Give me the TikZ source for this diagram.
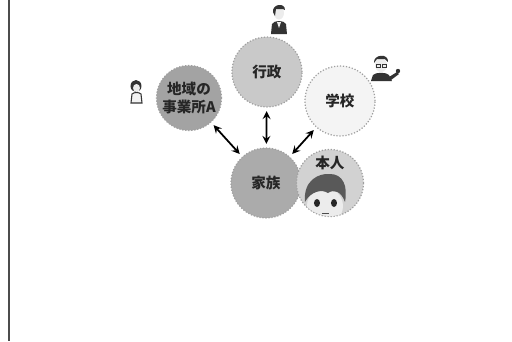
\documentclass[tikz,border=0pt]{standalone}
\usepackage{fontspec}
\newfontfamily\jpfont{Noto Sans CJK JP}
\usetikzlibrary{arrows,positioning}

\begin{document}
\begin{tikzpicture}[
  x=0.02cm, y=-0.02cm,
  party/.style={circle, draw=gray!75, densely dotted, line width=0.7pt, minimum size=1.4cm, inner sep=0pt, align=center, font=\jpfont\bfseries\fontsize{8.3}{10}\selectfont, text=black!85},
  arrow/.style={<->, line width=1pt, >=stealth, shorten <=2pt, shorten >=2pt},
  ink/.style={fill=black!80, draw=none}
]
  \useasboundingbox (0,0) rectangle (512,342);
  % frame line on the left
  \draw[black!70, line width=0.8pt] (9,0) -- (9,341);

  % Circles
  \node[party, fill=gray!42] (gyosei) at (267,72) {行政};
  \node[party, fill=gray!72, minimum size=1.3cm] (jigyosho) at (189,98) {地域の\\事業所A};
  \node[party, fill=gray!9] (gakko) at (340,101) {学校};
  \node[party, fill=gray!66] (kazoku) at (266,183) {家族};
  \node[party, fill=gray!35, minimum size=1.34cm] (honnin) at (330,183) {};
  \node[font=\jpfont\bfseries\fontsize{8.3}{10}\selectfont, text=black!85] (honninlabel) at (330,163) {本人};

  % face inside the own circle
  \begin{scope}
    \clip (honnin.center) circle (33);
    \fill[gray!15] (325,206) ellipse (18 and 18);
    \fill[black!65] (305,202) .. controls (303,180) and (319,173) .. (330,174)
      .. controls (343,174) and (348,186) .. (345,202)
      .. controls (341,191) and (334,189) .. (328,193)
      .. controls (322,189) and (311,191) .. (305,202) -- cycle;
    \fill[black!85] (317,203) ellipse (3 and 4);
    \fill[black!85] (334,203) ellipse (3 and 4);
    \draw[black!70, line width=0.5pt] (322,213) -- (329,213);
  \end{scope}

  % Arrows
  \draw[arrow] (gyosei) -- (kazoku);
  \draw[arrow] (jigyosho) -- (kazoku);
  \draw[arrow] (gakko) -- (kazoku);

  % person above the administration
  \fill[gray!15] (279,13) ellipse (5 and 6.5);
  \fill[ink] (273,12) .. controls (272,4) and (285,2) .. (285,10) -- (283,9) -- (276,9) -- (275,16) -- cycle;
  \fill[ink] (271,34) -- (272,24) .. controls (274,20) and (284,20) .. (286,24) -- (287,34) -- cycle;
  \fill[gray!15] (277,22) -- (281,22) -- (279,28) -- cycle;

  % person beside the local office
  \fill[ink] (136,86) ellipse (5.5 and 6);
  \fill[gray!15] (136.5,88) ellipse (3.5 and 4);
  \draw[black!80, fill=gray!10, line width=0.6pt] (131,103) -- (132,94) .. controls (134,92) and (139,92) .. (141,94) -- (142,103) -- cycle;

  % person beside the school
  \fill[gray!15] (381,65) ellipse (6 and 7);
  \fill[ink] (374,63) .. controls (373,54) and (389,53) .. (388,62) -- (385,59) -- (377,59) -- cycle;
  \draw[black!80, line width=0.5pt] (376,64) rectangle (380,67) (382,64) rectangle (386,67);
  \fill[ink] (371,81) -- (373,75) .. controls (376,72) and (386,72) .. (389,75) -- (392,81) -- cycle;
  \fill[ink] (389,77) -- (397,72) -- (399,74) -- (391,80) -- cycle;
  \fill[ink] (398,71) circle (2.2);
\end{tikzpicture}
\end{document}
